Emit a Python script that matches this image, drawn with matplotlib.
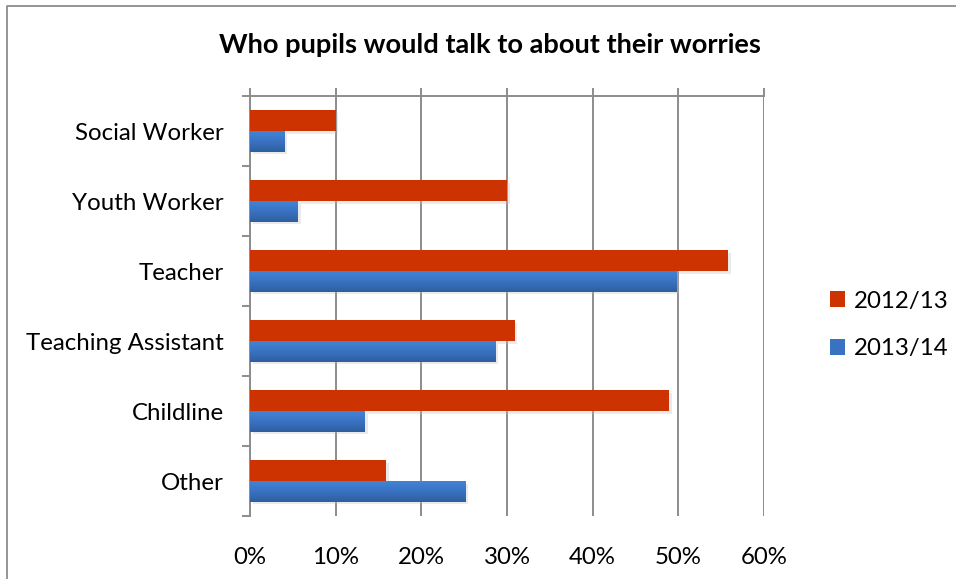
import matplotlib

matplotlib.use("Agg")
import matplotlib.pyplot as plt
import matplotlib.patheffects as pe
import numpy as np
from matplotlib.colors import LinearSegmentedColormap
from matplotlib.lines import Line2D
from matplotlib.patches import Patch

categories = ["Social Worker", "Youth Worker", "Teacher", "Teaching Assistant", "Childline", "Other"]
series_names = ["2012/13", "2013/14"]
values_2012 = [10.0, 30.0, 55.8, 30.9, 48.9, 15.9]
values_2013 = [4.0, 5.6, 49.8, 28.6, 13.4, 25.1]
x_ticks = [0, 10, 20, 30, 40, 50, 60]

RED = "#CC3300"
BLUE = "#3A70C0"
GRID = "#8C8C8C"
FS = 17.3

plt.rcParams["font.family"] = ["Lato", "DejaVu Sans"]

fig = plt.figure(figsize=(9.56, 5.79), dpi=100)
ax = fig.add_axes([250 / 956, 1 - 516 / 579, (764 - 250) / 956, (516 - 96) / 579])

y = np.arange(len(categories))
h = 0.293
shadow = [pe.SimplePatchShadow(offset=(2, -2), shadow_rgbFace="#BBBBBB", alpha=0.3), pe.Normal()]

ax.barh(y - h / 2, values_2012, height=h, color=RED, zorder=3, path_effects=shadow)
ax.barh(y + h / 2, values_2013, height=h, color=BLUE, zorder=3, path_effects=shadow)

# vertical gradient on the 2013/14 bars
blue_cmap = LinearSegmentedColormap.from_list("blu", ["#4184D6", "#3A72C2", "#2E5E9E"])
grad = np.linspace(0, 1, 64).reshape(-1, 1)
for yi, v in zip(y, values_2013):
    ax.imshow(grad, cmap=blue_cmap, aspect="auto", origin="upper",
              extent=(0, v, yi + h, yi), zorder=4, interpolation="bilinear")

ax.set_xlim(0, 60)
ax.set_ylim(len(categories) - 0.5, -0.5)
ax.set_xticks(x_ticks)
ax.set_xticklabels([f"{t}%" for t in x_ticks], fontsize=FS)
ax.set_yticks(y)
ax.set_yticklabels(categories, fontsize=FS)
ax.set_yticks(np.arange(-0.5, len(categories)), minor=True)

ax.grid(axis="x", color=GRID, linewidth=1.4, zorder=0)
ax.set_axisbelow(True)
ax.tick_params(axis="x", top=True, bottom=False, labeltop=False, labelbottom=True,
               length=6, width=1.4, color=GRID, pad=16)
ax.tick_params(axis="y", which="major", length=0, pad=19)
ax.tick_params(axis="y", which="minor", length=6, width=1.4, color=GRID)

for side in ("right", "bottom"):
    ax.spines[side].set_visible(False)
for side in ("left", "top"):
    ax.spines[side].set_color(GRID)
    ax.spines[side].set_linewidth(1.4)

fig.text(490 / 956, 1 - 45 / 579, "Who pupils would talk to about their worries",
         ha="center", va="center", fontsize=19.6, fontweight="bold")

handles = [Patch(facecolor=RED), Patch(facecolor="#3A72C2")]
fig.legend(handles, series_names, loc="center left", bbox_to_anchor=(808 / 956, 1 - 325 / 579),
           frameon=False, fontsize=FS, handlelength=0.65, handleheight=0.65,
           handletextpad=0.35, labelspacing=1.1)

# outer chart border
fig.add_artist(Line2D([7 / 956, 7 / 956, 1.0], [0.0, 1 - 6 / 579, 1 - 6 / 579],
                      transform=fig.transFigure, color="#8C8C8C", linewidth=1.3))

fig.savefig("out.png", dpi=100)
